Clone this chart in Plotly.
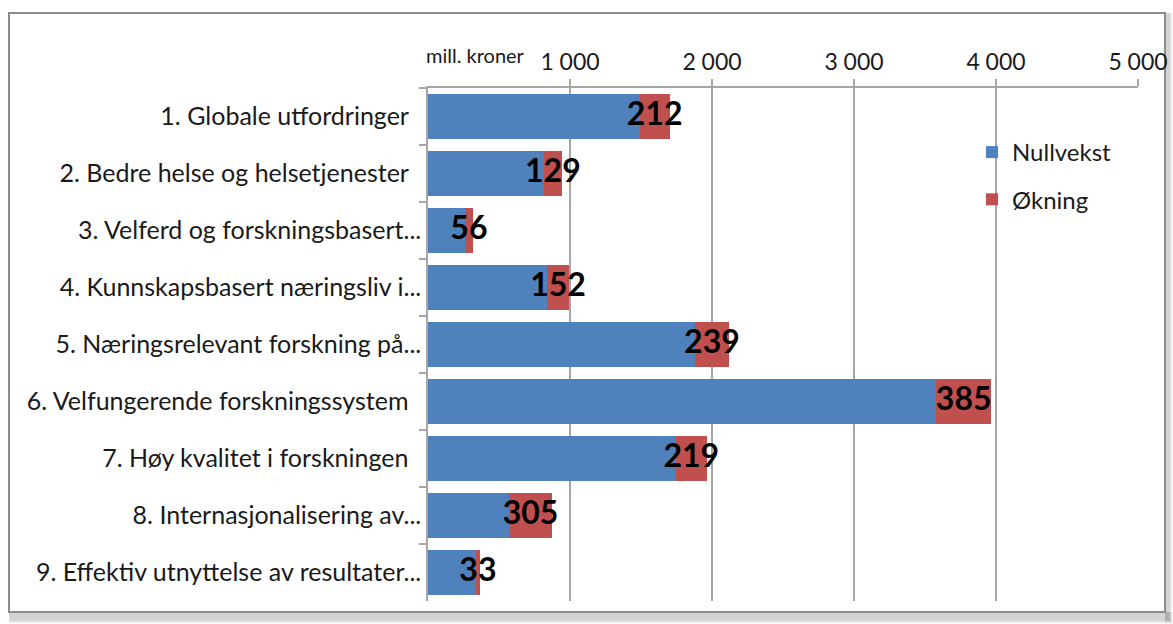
import plotly.graph_objects as go

categories = [
    "1. Globale utfordringer\u00a0\u00a0",
    "2. Bedre helse og helsetjenester\u00a0\u00a0",
    "3. Velferd og forskningsbasert...",
    "4. Kunnskapsbasert næringsliv i...",
    "5. Næringsrelevant forskning på...",
    "6. Velfungerende forskningssystem\u00a0\u00a0",
    "7. Høy kvalitet i forskningen\u00a0\u00a0",
    "8. Internasjonalisering av...",
    "9. Effektiv utnyttelse av resultater...",
]
nullvekst = [1490, 815, 260, 840, 1880, 3580, 1745, 570, 335]
okning = [212, 129, 56, 152, 239, 385, 219, 305, 33]
tick_vals = [1000, 2000, 3000, 4000, 5000]
tick_text = ["1 000", "2 000", "3 000", "4 000", "5 000"]

BLUE = "#4f81bd"
RED = "#c0504d"
GRID = "#a6a6a6"
FONT = "Lato, 'Open Sans', sans-serif"

fig = go.Figure()
fig.add_trace(go.Bar(
    y=categories, x=nullvekst, orientation="h", name="Nullvekst",
    marker=dict(color=BLUE, line=dict(width=0)), legendgroup="a",
))
fig.add_trace(go.Bar(
    y=categories, x=okning, orientation="h", name="Økning",
    marker=dict(color=RED, line=dict(width=0)), legendgroup="b",
))
label_x = [n + o / 2 for n, o in zip(nullvekst, okning)]
fig.add_trace(go.Scatter(
    y=categories, x=label_x, mode="text", text=[str(v) for v in okning],
    textposition="middle center",
    textfont=dict(family=FONT, size=32, color="black", weight="bold"),
    showlegend=False, hoverinfo="skip", cliponaxis=False,
))

L, R, T, B = 428, 35, 88, 23
W, H = 1173, 624
pw = W - L - R
ph = H - T - B

def px(xp):
    return (xp - L) / pw

def py(yp):
    return (H - B - yp) / ph

fig.update_layout(
    width=W, height=H,
    margin=dict(l=L, r=R, t=T, b=B, pad=0, autoexpand=False),
    barmode="stack", bargap=0.21,
    paper_bgcolor="white", plot_bgcolor="white",
    font=dict(family=FONT, color="#1a1a1a"),
    xaxis=dict(
        side="top", range=[0, 5000], tickvals=tick_vals, ticktext=tick_text,
        showgrid=True, gridcolor=GRID, gridwidth=1.5, zeroline=False,
        showline=True, linecolor=GRID, linewidth=1.5, automargin=False,
        ticks="outside", ticklen=7, tickcolor=GRID, tickwidth=1.5,
        tickfont=dict(size=23, color="#1a1a1a"),
    ),
    yaxis=dict(
        autorange="reversed", showgrid=False, zeroline=False,
        showline=True, linecolor=GRID, linewidth=1.5, automargin=False,
        ticks="outside", ticklen=7, tickcolor=GRID, tickwidth=1.5,
        tickson="boundaries", tickfont=dict(size=25, color="#1a1a1a"),
    ),
    legend=dict(
        x=px(972), y=py(130), xanchor="left", yanchor="top",
        bgcolor="rgba(0,0,0,0)", font=dict(size=24, color="#1a1a1a"),
        tracegroupgap=13, itemwidth=30,
    ),
    showlegend=True,
)

fig.add_annotation(
    x=px(475), y=py(55), xref="paper", yref="paper", text="mill. kroner",
    showarrow=False, font=dict(size=20, color="#1a1a1a"),
    xanchor="center", yanchor="middle",
)

# soft shadow at bottom and right edge of the chart frame
for i, a in enumerate([0.02, 0.03, 0.05, 0.07]):
    fig.add_shape(
        type="rect", xref="paper", yref="paper",
        x0=px(9), x1=px(1173 - i), y0=py(624 - i), y1=py(612),
        line=dict(width=0), fillcolor=f"rgba(0,0,0,{a})", layer="below",
    )
    fig.add_shape(
        type="rect", xref="paper", yref="paper",
        x0=px(1165), x1=px(1173 - i), y0=py(624 - i), y1=py(13),
        line=dict(width=0), fillcolor=f"rgba(0,0,0,{a})", layer="below",
    )

fig.add_shape(
    type="rect", xref="paper", yref="paper",
    x0=px(9), x1=px(1165), y0=py(612), y1=py(13),
    line=dict(color="#8c8c8c", width=2), fillcolor="white", layer="below",
)

fig.write_html(
    "out.html",
    config={"displayModeBar": False},
    post_script="document.body.style.margin='0';",
)
